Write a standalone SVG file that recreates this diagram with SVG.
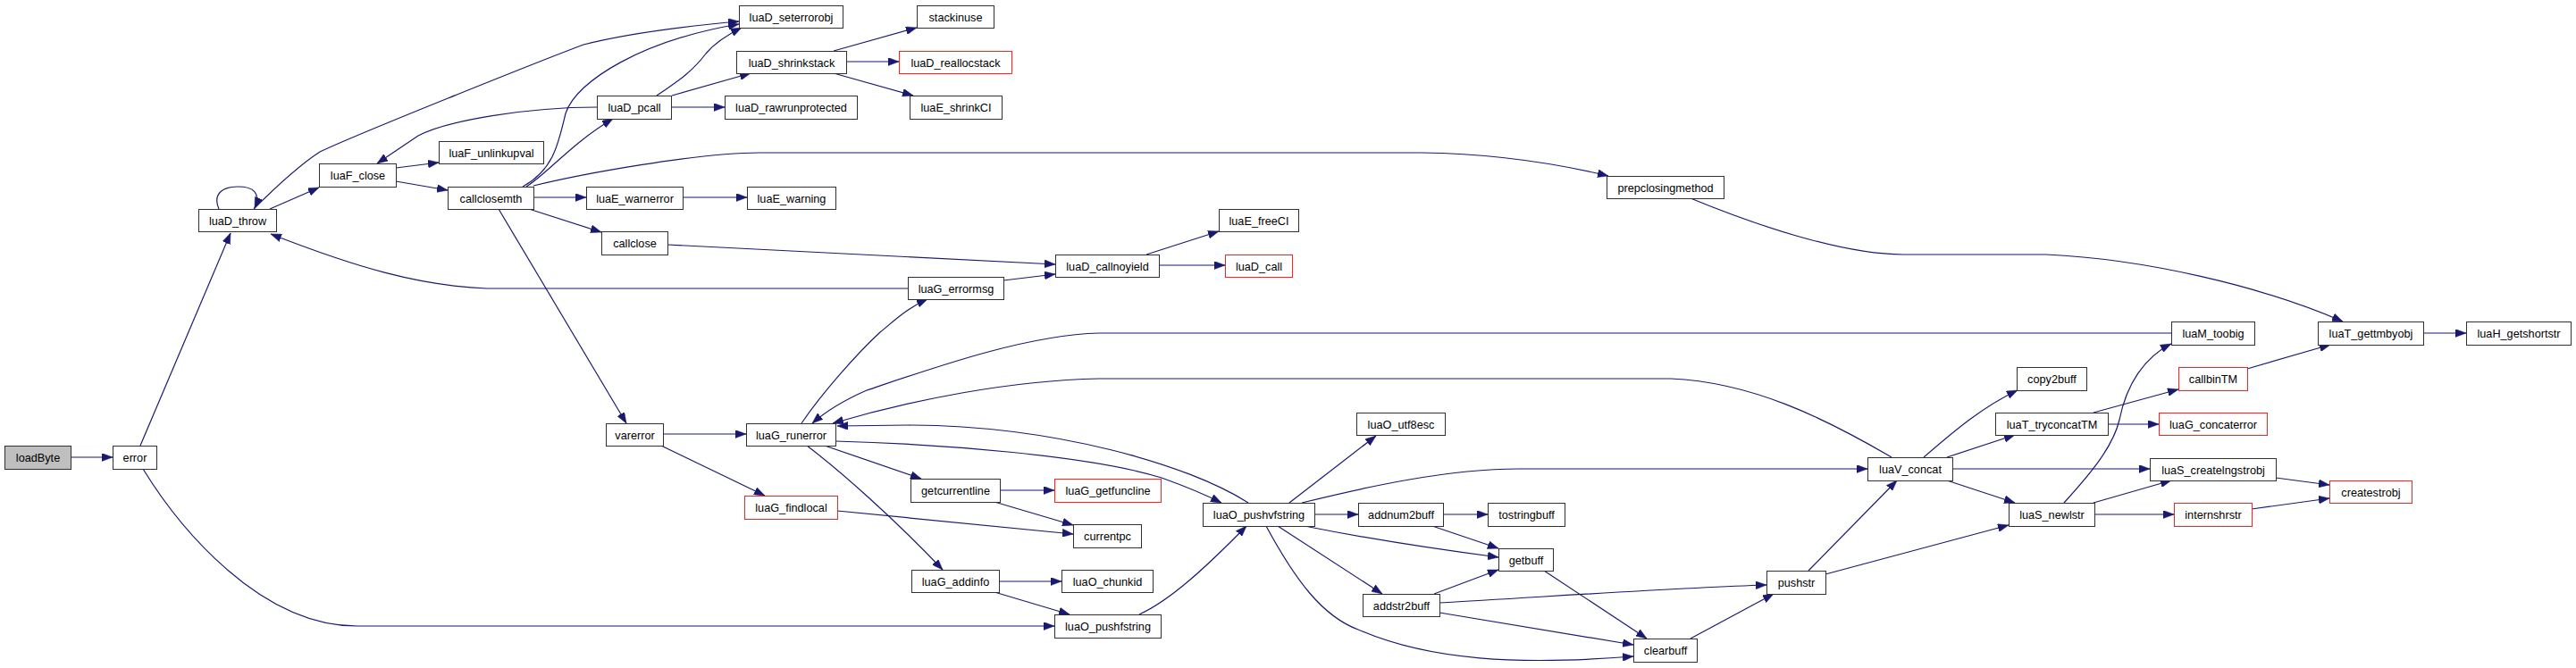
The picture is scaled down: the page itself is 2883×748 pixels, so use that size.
<svg xmlns="http://www.w3.org/2000/svg" width="2883" height="748" viewBox="0 0 2883 748">
<style>
.n rect{fill:#ffffff;stroke:#303030;stroke-width:1}
.n.root rect{fill:#bfbfbf}
.n.red rect{stroke:#ff2020}
.n text{font-family:"Liberation Sans",Arial,sans-serif;font-size:12.7px;text-anchor:middle;fill:#000}
.e path{fill:none;stroke:#191970;stroke-width:1.2;marker-end:url(#arr)}
</style>
<defs>
<marker id="arr" markerWidth="12" markerHeight="9" refX="12" refY="4.5" orient="auto" markerUnits="userSpaceOnUse">
<path d="M0,0 L12,4.5 L0,9 z" fill="#191970" stroke="#191970" stroke-width="0.5"/>
</marker>
</defs>
<rect width="2883" height="748" fill="#ffffff"/>
<g id="connectors" class="e">
<path d="M79,512 L126,512"/>
<path d="M157,499 L258,261"/>
<path d="M160,525 C200,590 290,701 400,701 L1180,701"/>
<path d="M245,234 C238,218 248,209 266,209 C284,209 292,216 285,233"/>
<path d="M302,234 L357,210"/>
<path d="M284,234 C305,213 335,185 358,170 C400,150 600,70 653,50 C700,38 760,30 827,24"/>
<path d="M1016,323 L545,323 C470,320 400,300 303,262"/>
<path d="M443,188 L491,182"/>
<path d="M443,203 L501,213"/>
<path d="M668,120 C590,120 500,135 468,152 L422,183"/>
<path d="M585,209 C620,190 625,160 633,127 C645,90 720,45 827,27"/>
<path d="M589,209 C612,195 640,160 686,133"/>
<path d="M597,208 C650,195 780,171 850,171 L1590,171 C1680,172 1750,185 1800,197"/>
<path d="M597,221 L656,221"/>
<path d="M764,221 L836,221"/>
<path d="M592,234 L673,260"/>
<path d="M558,234 L701,474"/>
<path d="M735,107 C760,90 775,80 790,60 C800,48 812,40 830,31"/>
<path d="M752,107 L840,82"/>
<path d="M751,120 L811,120"/>
<path d="M933,57 L1026,31"/>
<path d="M947,69 L1006,69"/>
<path d="M933,82 L1022,107"/>
<path d="M747,274 L1181,296"/>
<path d="M1123,314 L1181,307"/>
<path d="M1283,285 L1364,259"/>
<path d="M1297,297 L1371,297"/>
<path d="M897,474 C920,440 960,395 985,372 C1000,360 1015,345 1038,335"/>
<path d="M742,486 L835,486"/>
<path d="M740,499 L856,555"/>
<path d="M937,572 L1201,598"/>
<path d="M923,499 L1031,536"/>
<path d="M903,499 C940,527 1000,580 1055,638"/>
<path d="M1119,549 L1180,549"/>
<path d="M1113,562 L1201,588"/>
<path d="M1118,651 L1188,651"/>
<path d="M1113,663 L1197,688"/>
<path d="M1275,688 C1310,672 1350,635 1395,589"/>
<path d="M935,494 C1050,497 1220,510 1300,535 C1325,544 1345,552 1367,563"/>
<path d="M1397,563 C1330,520 1180,477 1020,476 L937,477"/>
<path d="M2430,373 L1230,373 C1150,375 1050,410 970,437 C945,448 925,460 909,474"/>
<path d="M2117,512 C2040,467 1960,428 1870,424 L1230,424 C1130,426 1020,448 932,474"/>
<path d="M1443,563 L1540,488"/>
<path d="M1457,563 C1530,545 1620,525 1700,525 L2090,525"/>
<path d="M1471,576 L1520,576"/>
<path d="M1460,589 C1540,605 1600,614 1677,624"/>
<path d="M1430,589 L1547,665"/>
<path d="M1417,589 C1450,650 1480,690 1520,705 C1600,740 1700,745 1828,735"/>
<path d="M1615,576 L1665,576"/>
<path d="M1603,589 L1677,614"/>
<path d="M1605,665 L1677,638"/>
<path d="M1611,675 C1750,667 1880,658 1977,655"/>
<path d="M1611,686 L1828,722"/>
<path d="M1728,639 L1843,715"/>
<path d="M1892,715 L1985,665"/>
<path d="M2024,639 L2123,538"/>
<path d="M2043,643 L2248,588"/>
<path d="M2153,512 C2190,480 2220,455 2258,437"/>
<path d="M2179,512 L2255,487"/>
<path d="M2185,525 L2406,525"/>
<path d="M2179,538 L2255,563"/>
<path d="M2343,462 L2438,436"/>
<path d="M2359,475 L2416,475"/>
<path d="M2310,563 C2340,530 2365,500 2372,470 C2380,430 2400,400 2430,385"/>
<path d="M2343,563 L2430,538"/>
<path d="M2344,576 L2433,576"/>
<path d="M2547,535 L2607,543"/>
<path d="M2520,570 L2607,558"/>
<path d="M2515,413 L2608,386"/>
<path d="M2712,373 L2760,373"/>
<path d="M1892,222 C1960,250 2060,285 2130,285 L2290,285 C2400,290 2530,320 2622,360"/>
</g>
<g id="loadByte" class="n root"><rect x="5.5" y="499.5" width="74" height="26"/><text x="42.5" y="517">loadByte</text></g>
<g id="error" class="n"><rect x="126.5" y="499.5" width="49" height="26"/><text x="151" y="517">error</text></g>
<g id="luaD_throw" class="n"><rect x="222.5" y="234.5" width="87" height="25"/><text x="266" y="251.5">luaD_throw</text></g>
<g id="luaF_close" class="n"><rect x="357.5" y="183.5" width="86" height="26"/><text x="400.5" y="201">luaF_close</text></g>
<g id="luaD_seterrorobj" class="n"><rect x="827.5" y="6.5" width="116" height="25"/><text x="885.5" y="23.5">luaD_seterrorobj</text></g>
<g id="luaD_shrinkstack" class="n"><rect x="824.5" y="57.5" width="123" height="25"/><text x="886" y="74.5">luaD_shrinkstack</text></g>
<g id="luaD_pcall" class="n"><rect x="668.5" y="107.5" width="83" height="26"/><text x="710" y="125">luaD_pcall</text></g>
<g id="luaD_rawrunprotected" class="n"><rect x="811.5" y="107.5" width="148" height="26"/><text x="885.5" y="125">luaD_rawrunprotected</text></g>
<g id="luaF_unlinkupval" class="n"><rect x="491.5" y="158.5" width="117" height="25"/><text x="550" y="175.5">luaF_unlinkupval</text></g>
<g id="callclosemth" class="n"><rect x="501.5" y="209.5" width="96" height="25"/><text x="549.5" y="226.5">callclosemth</text></g>
<g id="luaE_warnerror" class="n"><rect x="656.5" y="209.5" width="108" height="25"/><text x="710.5" y="226.5">luaE_warnerror</text></g>
<g id="luaE_warning" class="n"><rect x="836.5" y="209.5" width="99" height="25"/><text x="886" y="226.5">luaE_warning</text></g>
<g id="callclose" class="n"><rect x="673.5" y="259.5" width="74" height="26"/><text x="710.5" y="277">callclose</text></g>
<g id="varerror" class="n"><rect x="678.5" y="474.5" width="64" height="25"/><text x="710.5" y="491.5">varerror</text></g>
<g id="luaG_runerror" class="n"><rect x="835.5" y="474.5" width="100" height="25"/><text x="885.5" y="491.5">luaG_runerror</text></g>
<g id="luaG_findlocal" class="n red"><rect x="833.5" y="555.5" width="104" height="26"/><text x="885.5" y="573">luaG_findlocal</text></g>
<g id="stackinuse" class="n"><rect x="1026.5" y="6.5" width="86" height="25"/><text x="1069.5" y="23.5">stackinuse</text></g>
<g id="luaD_reallocstack" class="n red"><rect x="1006.5" y="57.5" width="126" height="25"/><text x="1069.5" y="74.5">luaD_reallocstack</text></g>
<g id="luaE_shrinkCI" class="n"><rect x="1018.5" y="107.5" width="103" height="26"/><text x="1070" y="125">luaE_shrinkCI</text></g>
<g id="luaE_freeCI" class="n"><rect x="1364.5" y="234.5" width="89" height="25"/><text x="1409" y="251.5">luaE_freeCI</text></g>
<g id="luaD_callnoyield" class="n"><rect x="1181.5" y="285.5" width="116" height="25"/><text x="1239.5" y="302.5">luaD_callnoyield</text></g>
<g id="luaD_call" class="n red"><rect x="1371.5" y="285.5" width="75" height="25"/><text x="1409" y="302.5">luaD_call</text></g>
<g id="luaG_errormsg" class="n"><rect x="1016.5" y="310.5" width="107" height="25"/><text x="1070" y="327.5">luaG_errormsg</text></g>
<g id="getcurrentline" class="n"><rect x="1019.5" y="536.5" width="100" height="26"/><text x="1069.5" y="554">getcurrentline</text></g>
<g id="luaG_getfuncline" class="n red"><rect x="1180.5" y="536.5" width="119" height="26"/><text x="1240" y="554">luaG_getfuncline</text></g>
<g id="currentpc" class="n"><rect x="1201.5" y="587.5" width="76" height="26"/><text x="1239.5" y="605">currentpc</text></g>
<g id="luaG_addinfo" class="n"><rect x="1020.5" y="638.5" width="98" height="25"/><text x="1069.5" y="655.5">luaG_addinfo</text></g>
<g id="luaO_chunkid" class="n"><rect x="1188.5" y="638.5" width="102" height="25"/><text x="1239.5" y="655.5">luaO_chunkid</text></g>
<g id="luaO_pushfstring" class="n"><rect x="1180.5" y="688.5" width="119" height="26"/><text x="1240" y="706">luaO_pushfstring</text></g>
<g id="luaO_pushvfstring" class="n"><rect x="1346.5" y="563.5" width="125" height="26"/><text x="1409" y="581">luaO_pushvfstring</text></g>
<g id="prepclosingmethod" class="n"><rect x="1798.5" y="197.5" width="131" height="25"/><text x="1864" y="214.5">prepclosingmethod</text></g>
<g id="luaO_utf8esc" class="n"><rect x="1518.5" y="462.5" width="99" height="25"/><text x="1568" y="479.5">luaO_utf8esc</text></g>
<g id="addnum2buff" class="n"><rect x="1520.5" y="563.5" width="95" height="26"/><text x="1568" y="581">addnum2buff</text></g>
<g id="tostringbuff" class="n"><rect x="1665.5" y="563.5" width="86" height="26"/><text x="1708.5" y="581">tostringbuff</text></g>
<g id="getbuff" class="n"><rect x="1677.5" y="614.5" width="61" height="25"/><text x="1708" y="631.5">getbuff</text></g>
<g id="addstr2buff" class="n"><rect x="1525.5" y="665.5" width="86" height="25"/><text x="1568.5" y="682.5">addstr2buff</text></g>
<g id="clearbuff" class="n"><rect x="1828.5" y="715.5" width="71" height="26"/><text x="1864" y="733">clearbuff</text></g>
<g id="copy2buff" class="n"><rect x="2257.5" y="411.5" width="78" height="26"/><text x="2296.5" y="429">copy2buff</text></g>
<g id="luaT_tryconcatTM" class="n"><rect x="2233.5" y="462.5" width="126" height="25"/><text x="2296.5" y="479.5">luaT_tryconcatTM</text></g>
<g id="luaV_concat" class="n"><rect x="2090.5" y="512.5" width="95" height="26"/><text x="2138" y="530">luaV_concat</text></g>
<g id="luaS_newlstr" class="n"><rect x="2248.5" y="563.5" width="96" height="26"/><text x="2296.5" y="581">luaS_newlstr</text></g>
<g id="pushstr" class="n"><rect x="1977.5" y="639.5" width="66" height="26"/><text x="2010.5" y="657">pushstr</text></g>
<g id="luaM_toobig" class="n"><rect x="2430.5" y="360.5" width="93" height="26"/><text x="2477" y="378">luaM_toobig</text></g>
<g id="luaT_gettmbyobj" class="n"><rect x="2594.5" y="360.5" width="118" height="26"/><text x="2653.5" y="378">luaT_gettmbyobj</text></g>
<g id="luaH_getshortstr" class="n"><rect x="2760.5" y="360.5" width="117" height="26"/><text x="2819" y="378">luaH_getshortstr</text></g>
<g id="callbinTM" class="n red"><rect x="2438.5" y="411.5" width="77" height="26"/><text x="2477" y="429">callbinTM</text></g>
<g id="luaG_concaterror" class="n red"><rect x="2416.5" y="462.5" width="121" height="25"/><text x="2477" y="479.5">luaG_concaterror</text></g>
<g id="luaS_createlngstrobj" class="n"><rect x="2406.5" y="513.5" width="141" height="25"/><text x="2477" y="530.5">luaS_createlngstrobj</text></g>
<g id="createstrobj" class="n red"><rect x="2607.5" y="538.5" width="92" height="25"/><text x="2653.5" y="555.5">createstrobj</text></g>
<g id="internshrstr" class="n red"><rect x="2433.5" y="563.5" width="87" height="26"/><text x="2477" y="581">internshrstr</text></g>
</svg>
